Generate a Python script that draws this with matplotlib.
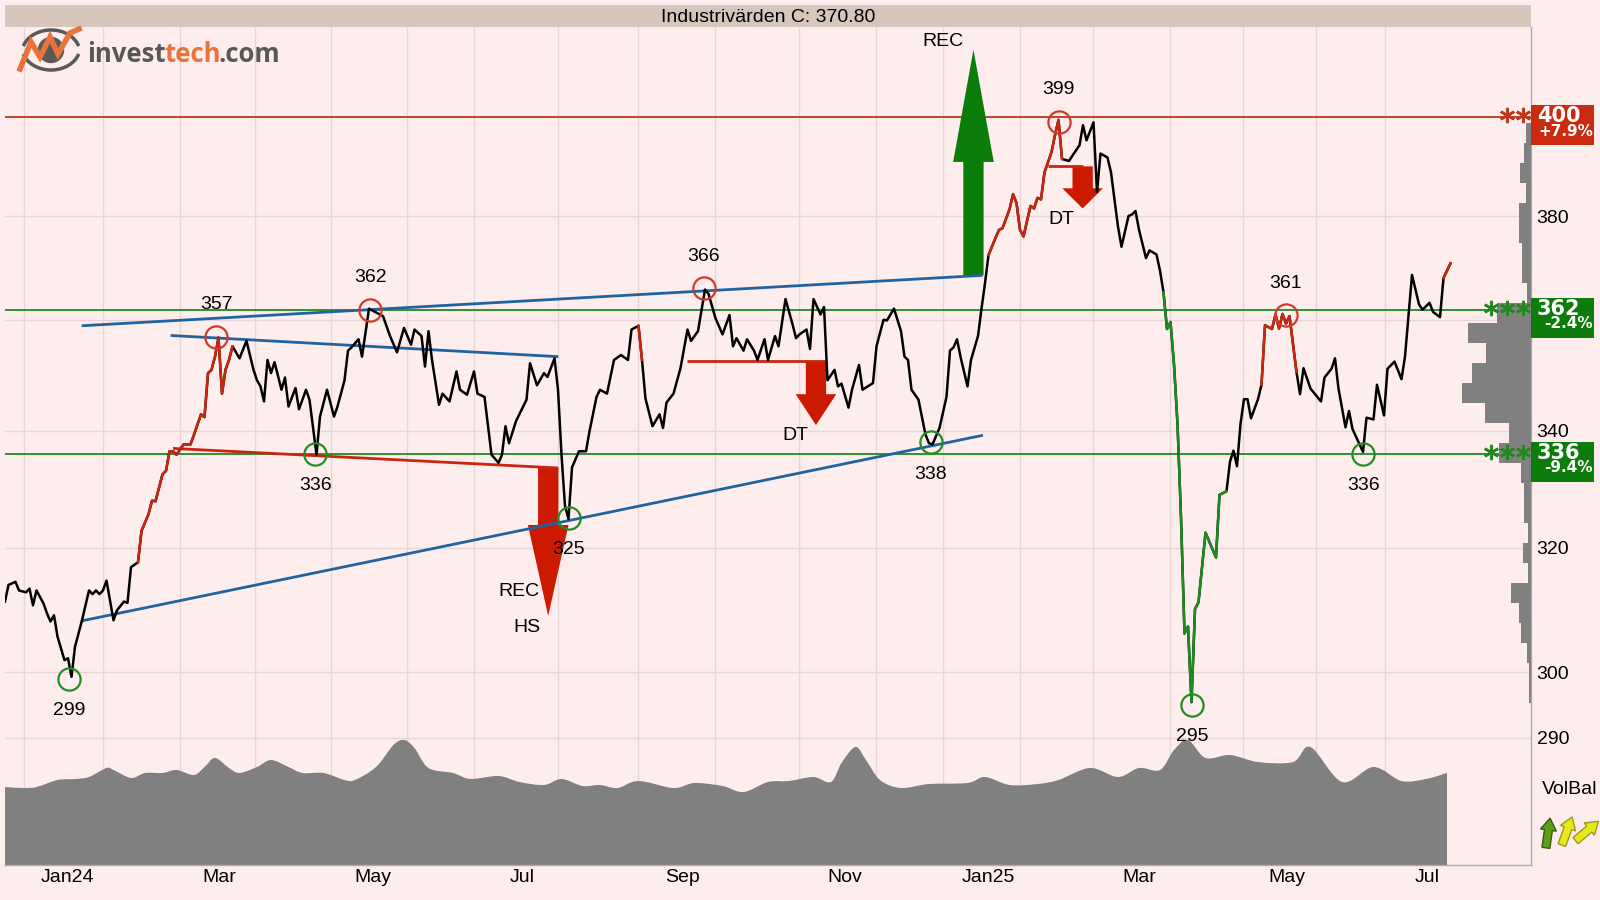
import numpy as np
import matplotlib
matplotlib.use("Agg")
import matplotlib.pyplot as plt
from matplotlib.patches import Rectangle, Polygon, Circle, PathPatch
from matplotlib.path import Path
from matplotlib.ticker import NullLocator
from matplotlib.transforms import blended_transform_factory

plt.rcParams["font.family"] = ["Liberation Sans", "DejaVu Sans"]

title = "Industrivärden C: 370.80"

# x unit = trading day counted from the left edge of the chart
price_day = [
    0, 1, 3, 4, 6, 7, 8, 9, 11, 12,
    13, 14, 15, 17, 18, 19, 20, 22, 24, 25,
    26, 27, 28, 29, 31, 32, 34, 35, 36, 38,
    39, 41, 42, 43, 44, 45, 46, 47, 48, 49,
    51, 53, 54, 56, 57, 58, 59, 60, 61, 62,
    63, 64, 65, 67, 69, 71, 72, 73, 74, 75,
    76, 77, 79, 80, 81, 83, 84, 86, 87, 89,
    90, 92, 94, 95, 97, 98, 99, 101, 102, 104,
    106, 108, 110, 112, 114, 116, 117, 119, 120, 121,
    122, 124, 125, 127, 129, 130, 132, 134, 135, 137,
    139, 141, 142, 143, 144, 146, 149, 150, 152, 154,
    155, 157, 158, 159, 160, 161, 162, 164, 166, 167,
    169, 170, 172, 174, 176, 178, 179, 181, 182, 183,
    185, 187, 188, 189, 191, 193, 195, 196, 198, 200,
    201, 203, 205, 207, 208, 209, 211, 212, 214, 215,
    217, 218, 220, 221, 223, 225, 226, 227, 229, 230,
    231, 233, 234, 235, 237, 238, 239, 241, 242, 244,
    245, 248, 249, 251, 252, 254, 256, 257, 258, 259,
    261, 263, 264, 265, 267, 269, 270, 271, 272, 273,
    275, 276, 278, 279, 280, 281, 283, 284, 285, 287,
    288, 289, 290, 291, 293, 294, 295, 296, 297, 299,
    300, 301, 302, 304, 305, 307, 308, 309, 311, 312,
    313, 315, 316, 318, 319, 321, 322, 323, 324, 326,
    327, 329, 330, 331, 332, 333, 334, 335, 336, 337,
    338, 339, 340, 341, 343, 346, 347, 349, 350, 351,
    352, 353, 354, 355, 356, 358, 359, 360, 362, 363,
    364, 365, 366, 367, 369, 370, 371, 373, 376, 377,
    379, 380, 381, 383, 384, 385, 388, 389, 391, 392,
    394, 395, 397, 399, 400, 402, 404, 405, 407, 408,
    410, 411, 413,
]
price = [
    311.2, 313.9, 314.4, 313.0, 312.7, 313.3, 310.6, 313.0, 310.9, 309.3,
    308.0, 309.0, 305.6, 301.9, 302.2, 299.3, 304.0, 308.2, 313.0, 312.4,
    313.0, 312.4, 313.0, 314.6, 308.2, 309.8, 311.2, 311.0, 316.8, 317.6,
    322.8, 325.6, 327.9, 327.8, 330.1, 332.4, 333.0, 336.4, 336.4, 335.8,
    337.6, 337.6, 339.3, 342.9, 342.4, 350.3, 350.9, 353.3, 356.8, 346.6,
    350.9, 352.7, 355.2, 353.0, 356.2, 350.9, 349.0, 347.9, 345.2, 352.7,
    350.3, 352.3, 347.3, 349.5, 344.3, 347.6, 343.8, 347.3, 345.5, 335.8,
    342.5, 347.3, 342.5, 344.3, 349.0, 354.4, 355.0, 356.5, 353.3, 362.2,
    361.5, 360.8, 357.1, 354.1, 358.6, 355.5, 358.3, 357.1, 351.5, 358.0,
    352.7, 344.6, 346.6, 345.2, 350.6, 347.3, 346.4, 350.6, 346.6, 346.0,
    335.8, 334.4, 335.8, 340.8, 337.8, 341.7, 345.5, 352.1, 348.1, 350.3,
    349.6, 353.0, 347.3, 335.8, 327.0, 324.8, 333.6, 336.4, 336.4, 339.9,
    346.0, 347.3, 346.6, 352.7, 353.6, 352.7, 358.3, 359.0, 352.7, 345.7,
    340.8, 342.9, 340.5, 345.0, 346.6, 351.2, 358.3, 356.2, 358.0, 365.8,
    365.0, 360.4, 357.4, 361.0, 355.2, 356.7, 354.4, 356.5, 354.4, 352.7,
    356.5, 352.7, 357.1, 355.2, 364.0, 359.3, 356.7, 357.4, 358.3, 354.7,
    364.0, 361.1, 362.5, 349.0, 350.9, 347.9, 348.4, 344.1, 347.3, 351.8,
    347.3, 348.5, 355.2, 360.1, 360.0, 362.2, 358.0, 353.3, 352.7, 347.3,
    345.5, 339.3, 337.8, 337.6, 340.5, 346.0, 354.4, 355.0, 356.5, 353.3,
    347.9, 352.7, 357.1, 362.2, 367.0, 372.4, 375.7, 377.3, 377.6, 381.3,
    384.3, 382.6, 377.3, 376.0, 382.0, 381.5, 383.6, 383.3, 388.7, 392.8,
    396.3, 399.4, 391.4, 391.0, 392.1, 394.2, 398.3, 395.2, 398.9, 384.7,
    392.5, 391.7, 388.7, 377.9, 374.0, 380.0, 380.3, 381.0, 377.3, 371.8,
    373.3, 372.5, 369.4, 365.3, 358.4, 359.7, 351.9, 341.2, 325.1, 306.1,
    307.2, 295.4, 310.0, 311.1, 322.5, 318.4, 328.9, 329.5, 334.6, 336.5,
    333.8, 341.2, 345.6, 345.6, 342.2, 345.6, 348.2, 359.1, 358.4, 361.1,
    358.5, 361.2, 359.4, 360.8, 350.5, 346.5, 351.2, 347.5, 345.2, 349.5,
    351.1, 353.0, 347.5, 340.6, 343.5, 340.3, 336.3, 342.3, 342.0, 348.2,
    342.7, 351.1, 352.4, 349.2, 353.3, 368.6, 363.0, 362.0, 363.3, 361.6,
    360.6, 368.0, 370.8,
]

RED = "#c8260f"
GREEN = "#1f8a1f"
BLUE = "#1f64a0"

# stretches of the price line drawn in signal colours (first day, last day)
run_start = [38, 181, 281, 331, 359, 411]
run_end = [65, 182, 302, 349, 369, 413]
run_colour = [RED, RED, RED, GREEN, RED, RED]

# smoothed volume along the bottom
vol_day = [0, 5, 9, 15, 20, 24, 29, 31, 36, 40, 45, 49, 54, 57, 60, 64, 67, 72,
           76, 81, 85, 91, 97, 100, 106, 111, 114, 117, 121, 128, 133, 141, 147,
           154, 159, 165, 170, 175, 181, 191, 197, 205, 211, 218, 224, 231, 236,
           239, 243, 246, 250, 256, 264, 275, 280, 287, 295, 301, 310, 318, 324,
           330, 334, 338, 343, 350, 358, 368, 373, 382, 391, 399, 406, 412]
vol = [78, 77, 78, 85, 86, 88, 97, 95, 87, 92, 92, 95, 90, 98, 107, 97, 92, 98,
       105, 98, 92, 92, 85, 85, 98, 120, 125, 117, 97, 92, 86, 89, 83,
       80, 86, 79, 80, 77, 84, 77, 82, 79, 73, 83, 84, 88, 83,
       102, 118, 105, 85, 77, 81, 82, 88, 80, 81, 85, 97, 88, 97,
       95, 115, 125, 107, 110, 103, 103, 118, 83, 98, 84, 86, 92]

# volume at price, lowest bin first
profile_low, profile_high = 295.2, 398.7
profile_vol = [2, 2, 4, 10, 12, 20, 3, 8, 3, 7, 7, 10, 32, 22, 46,
               69, 59, 45, 63, 34, 4, 9, 9, 12, 12, 5, 11, 7, 5]

# turning points
top_day = [60.4, 104.4, 199.7, 301.1, 365.9]
top_val = [357, 362, 366, 399, 361]
bottom_day = [18.4, 88.7, 161.0, 264.5, 339.1, 388.1]
bottom_val = [299, 336, 325, 338, 295, 336]

# trend lines and pattern necklines
trend_d0 = [21.9, 47.3, 21.9, 48.0, 194.8, 298.1]
trend_v0 = [359.0, 357.2, 308.1, 336.9, 352.5, 389.9]
trend_d1 = [279.3, 158.1, 279.4, 158.1, 234.3, 308.1]
trend_v1 = [368.5, 353.3, 339.2, 333.5, 352.5, 389.9]
trend_colour = [BLUE, BLUE, BLUE, RED, RED, RED]

# pattern target arrows
arrow_day = [155.2, 231.7, 307.9, 276.7]
arrow_base = [333.5, 352.5, 389.9, 368.5]
arrow_neck = [323.8, 346.5, 385.5, 390.8]
arrow_tip = [308.9, 341.0, 381.5, 414.2]
arrow_colour = ["#cc1a00", "#cc1a00", "#cc1a00", "#0b7d0b"]

pattern_text = ["REC", "HS", "DT", "DT", "REC"]
pattern_day = [146.7, 149.0, 225.7, 301.7, 267.9]
pattern_val = [312.9, 307.0, 339.1, 379.4, 416.0]

# support / resistance levels
levels = [400, 362, 336]
level_colour = ["#b8391e", GREEN, GREEN]
level_box = ["#c92a10", "#0c7c0c", "#0c7c0c"]
level_stars = [2, 3, 3]

month_bounds = [5.3, 28, 50, 71.3, 93.1, 114.8, 133.9, 158.1, 180.9, 202.9,
                226.9, 248.9, 268, 289.9, 310.9, 332.9, 353.8, 374.6, 394.4]
month_pos = [17.8, 61.2, 105, 147.8, 193.6, 239.9, 281, 324, 366.3, 406.2]
month_labels = ["Jan24", "Mar", "May", "Jul", "Sep", "Nov", "Jan25", "Mar", "May", "Jul"]

y_ticks = [290, 300, 320, 340, 360, 380, 400]
y_labels = ["290", "300", "320", "340", "", "380", ""]

BG = "#fdeeed"
GRID = "#e8d6d6"


def smooth_area(xs, ys):
    # Catmull-Rom curve through the points, closed down to zero
    pts = np.column_stack([xs, ys]).astype(float)
    verts = [pts[0]]
    codes = [Path.MOVETO]
    n = len(pts)
    for i in range(n - 1):
        p0 = pts[max(i - 1, 0)]
        p1 = pts[i]
        p2 = pts[i + 1]
        p3 = pts[min(i + 2, n - 1)]
        verts += [p1 + (p2 - p0) / 6, p2 - (p3 - p1) / 6, p2]
        codes += [Path.CURVE4] * 3
    verts += [(pts[-1, 0], 0), (pts[0, 0], 0), pts[0]]
    codes += [Path.LINETO, Path.LINETO, Path.CLOSEPOLY]
    return Path(verts, codes)


fig = plt.figure(figsize=(16, 9), dpi=100, facecolor=BG)
ax = fig.add_axes([5 / 1600, 35 / 900, 1526 / 1600, 838 / 900])
ax.set_facecolor(BG)
ax.set_yscale("log")
ax.set_axisbelow(True)
ax.set_xlim(0, 436)
ax.set_ylim(271.5, 419.1)

# volume area in the lower part of the price panel
vol_tf = blended_transform_factory(ax.transData, ax.transAxes)
ax.add_patch(PathPatch(smooth_area(vol_day, np.array(vol) / 838), transform=vol_tf,
                       facecolor="#808080", lw=0, zorder=1))

for lvl, col in zip(levels, level_colour):
    ax.axhline(lvl, color=col, lw=1.3, zorder=2)

for d, b, n, t, col in zip(arrow_day, arrow_base, arrow_neck, arrow_tip, arrow_colour):
    s, h = 2.9, 5.8
    pts = [(d - s, b), (d + s, b), (d + s, n), (d + h, n), (d, t), (d - h, n), (d - s, n)]
    ax.add_patch(Polygon(pts, closed=True, facecolor=col, edgecolor="none", zorder=2.5))

for d0, v0, d1, v1, col in zip(trend_d0, trend_v0, trend_d1, trend_v1, trend_colour):
    ax.plot([d0, d1], [v0, v1], color=col, lw=2, zorder=3, solid_capstyle="butt")

pd_arr = np.array(price_day)
pv = np.array(price)
ax.plot(pd_arr, pv, color="black", lw=1.8, zorder=4)
for a, b, col in zip(run_start, run_end, run_colour):
    m = (pd_arr >= a) & (pd_arr <= b)
    ax.plot(pd_arr[m], pv[m], color=col, lw=1.8, zorder=4.1)

ax.plot(top_day, top_val, "o", mfc="none", mec="#d03a2a", ms=16, mew=1.6, zorder=5)
ax.plot(bottom_day, bottom_val, "o", mfc="none", mec="#238c23", ms=16, mew=1.6, zorder=5)
for d, v in zip(top_day, top_val):
    ax.annotate(f"{v:.0f}", (d, v), xytext=(0, 23), textcoords="offset points",
                ha="center", va="center", fontsize=14, zorder=6)
for d, v in zip(bottom_day, bottom_val):
    ax.annotate(f"{v:.0f}", (d, v), xytext=(0, -23), textcoords="offset points",
                ha="center", va="center", fontsize=14, zorder=6)
for txt, d, v in zip(pattern_text, pattern_day, pattern_val):
    ax.text(d, v, txt, ha="center", va="center", fontsize=14, zorder=6)

ax.set_xlim(0, 436)
ax.set_ylim(271.5, 419.1)

ax.set_xticks(month_pos)
ax.set_xticklabels(month_labels)
ax.set_xticks(month_bounds, minor=True)
ax.grid(True, which="minor", axis="x", color=GRID, lw=1)
ax.grid(True, which="major", axis="y", color=GRID, lw=1)
ax.tick_params(axis="x", which="both", length=0)
ax.tick_params(axis="x", which="major", labelsize=14, pad=3)

ax.yaxis.tick_right()
ax.set_yticks(y_ticks)
ax.set_yticklabels(y_labels)
ax.yaxis.set_minor_locator(NullLocator())
ax.tick_params(axis="y", length=0, labelsize=14, pad=4)

for side in ["left", "top"]:
    ax.spines[side].set_visible(False)
for side in ["right", "bottom"]:
    ax.spines[side].set_color("#b4a9a9")
    ax.spines[side].set_linewidth(1)

# volume-at-price profile, growing leftwards from the right edge
axp = ax.twiny()
edges = np.geomspace(profile_low, profile_high, len(profile_vol) + 1)
axp.barh(edges[:-1], profile_vol, height=np.diff(edges), align="edge",
         color="#808080", lw=0)
axp.set_xlim(1526, 0)
axp.xaxis.set_visible(False)
for sp in axp.spines.values():
    sp.set_visible(False)
ax.set_ylim(271.5, 419.1)

# title band
tb = fig.add_axes([5 / 1600, 873 / 900, 1526 / 1600, 22 / 900])
tb.set_facecolor("#d6c6bb")
tb.set_xticks([])
tb.set_yticks([])
for sp in tb.spines.values():
    sp.set_visible(False)
tb.text(0.5, 0.45, title, ha="center", va="center", fontsize=14)

# overlay in pixel units for the level boxes, logo and VolBal
ov = fig.add_axes([0, 0, 1, 1], zorder=10)
ov.set_xlim(0, 1600)
ov.set_ylim(900, 0)
ov.axis("off")
ov.patch.set_visible(False)

last = price[-1]
for lvl, col, box, n in zip(levels, level_colour, level_box, level_stars):
    y = 900 - ax.transData.transform((0, lvl))[1]
    ov.add_patch(Rectangle((1531, y - 12), 63, 40, facecolor=box, lw=0))
    ov.text(1537, y - 1, f"{lvl}", color="white", fontsize=15, weight="bold",
            family="DejaVu Sans", ha="left", va="center")
    ov.text(1593, y + 14, f"{(lvl / last - 1) * 100:+.1f}%", color="white",
            fontsize=11, weight="bold", family="DejaVu Sans", ha="right", va="center")
    xs = [1523 - 16 * j for j in range(n)]
    ov.plot(xs, [y - 2] * n, linestyle="none", marker=(6, 2, 0), ms=11, mew=1.8, color=col)

ov.text(1542, 790, "VolBal", fontsize=14, ha="left", va="center")


def arrow_icon(cx, cy, angle, face, edge):
    shape = np.array([(0, -15), (8, -3), (4, -3), (4, 15), (-4, 15), (-4, -3), (-8, -3)], float)
    t = np.radians(angle)
    rot = np.array([[np.cos(t), -np.sin(t)], [np.sin(t), np.cos(t)]])
    ov.add_patch(Polygon(shape @ rot.T + (cx, cy), closed=True,
                         facecolor=face, edgecolor=edge, lw=1))


arrow_icon(1548, 833, 8, "#5a9e1a", "#3a5a10")
arrow_icon(1567, 831, 20, "#e8e81a", "#9a9a20")
arrow_icon(1587, 831, 50, "#e8e81a", "#9a9a20")

# logo
ov.add_patch(Circle((51, 50), 12.5, color="#595959"))
t = np.linspace(0.12 * np.pi, 0.88 * np.pi, 40)
ov.plot(51 + 29 * np.cos(t), 53 - 23 * np.sin(t), color="#595959", lw=2.5)
ov.plot(51 + 29 * np.cos(t), 47 + 23 * np.sin(t), color="#595959", lw=2.5)
ov.plot([20, 31, 40, 50, 58, 70, 79], [69, 42, 57, 37, 54, 33, 29],
        color="#e8743b", lw=4, solid_joinstyle="miter")
ov.text(87, 62, "invest", color="#585858", fontsize=18.5, weight="bold",
        family="Open Sans", ha="left", va="baseline")
ov.text(164, 62, "tech", color="#e8743b", fontsize=18.5, weight="bold",
        family="Open Sans", ha="left", va="baseline")
ov.text(219, 62, ".com", color="#585858", fontsize=18.5, weight="bold",
        family="Open Sans", ha="left", va="baseline")

fig.savefig("out.png", dpi=100)
